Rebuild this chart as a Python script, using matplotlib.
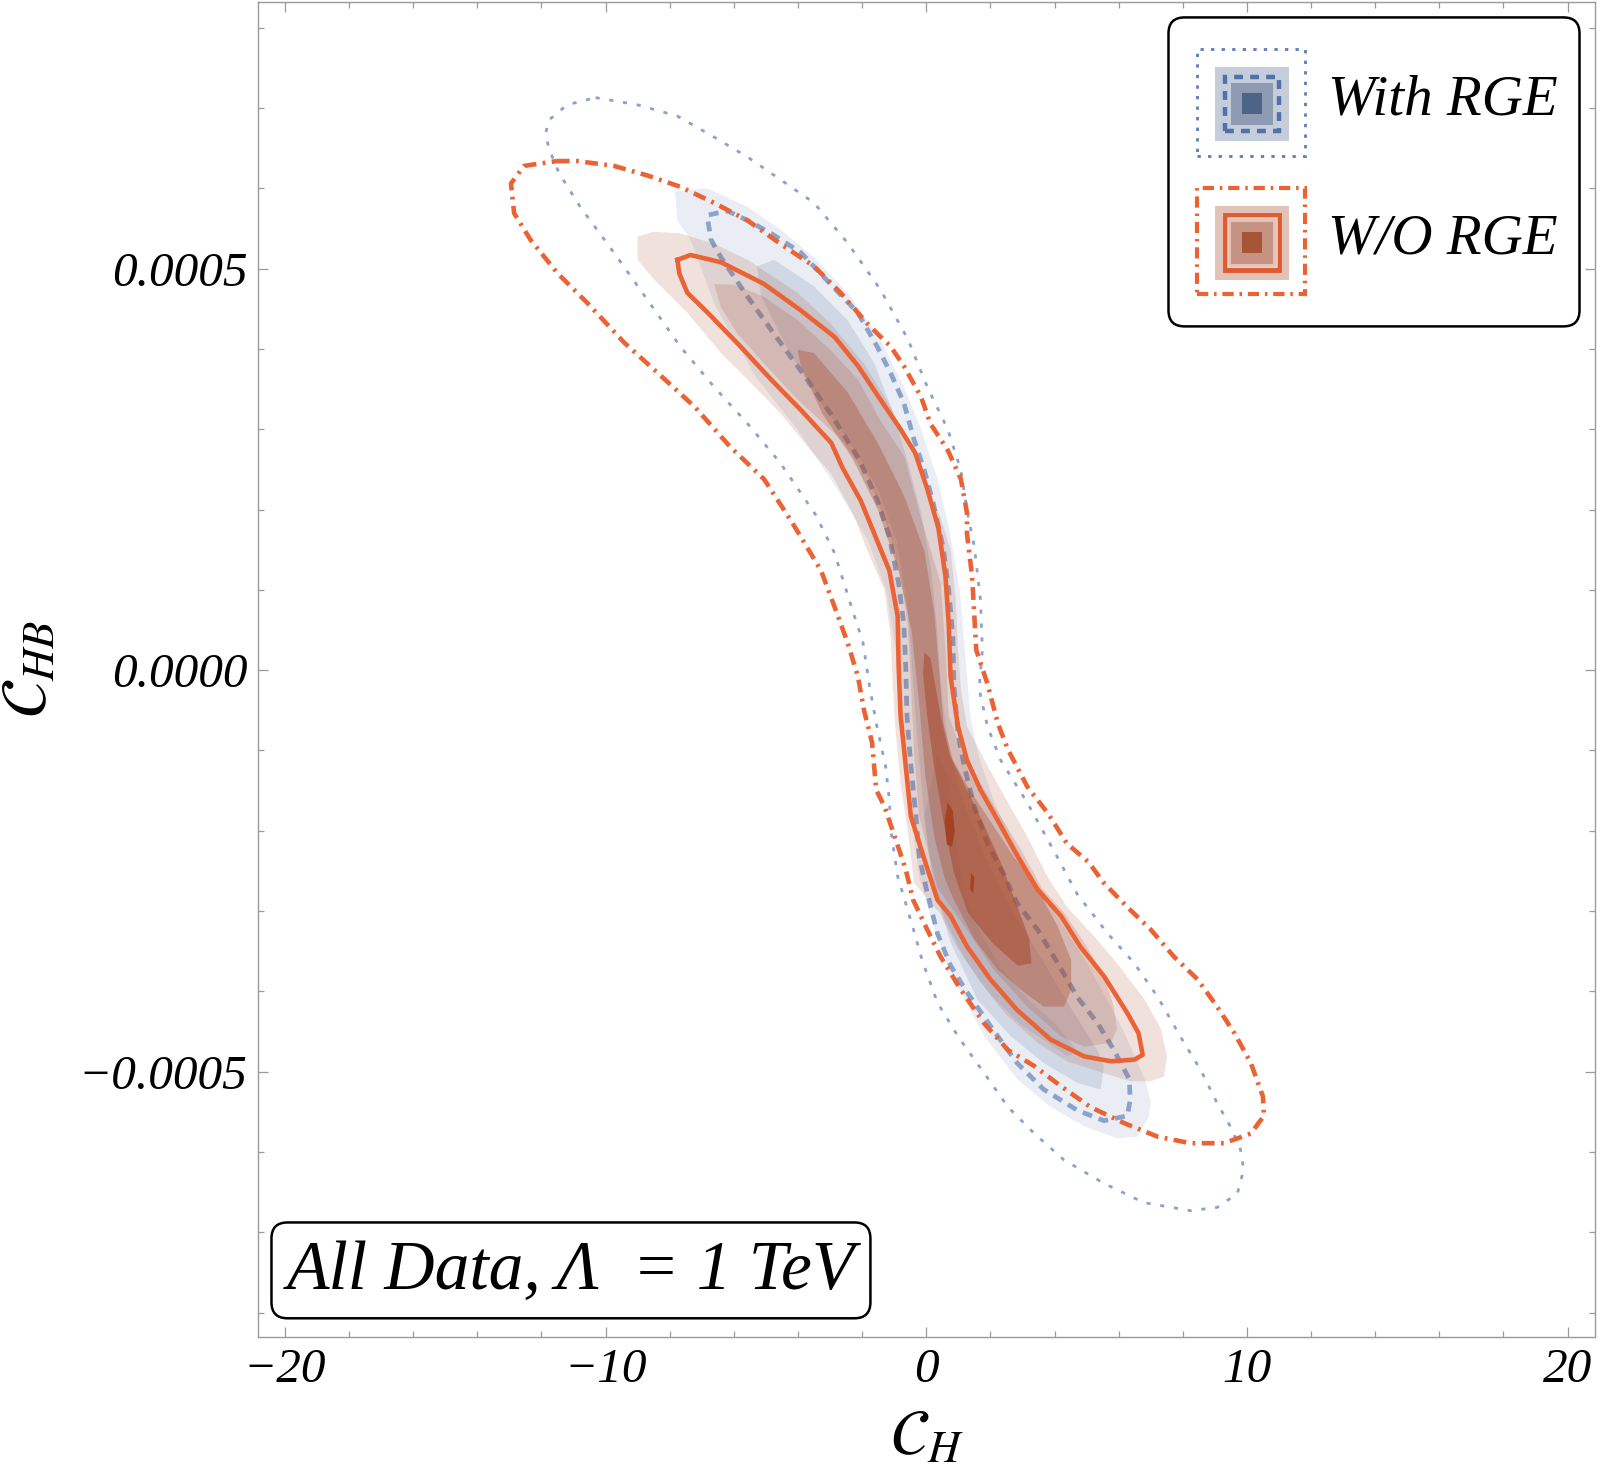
import numpy as np
import matplotlib
matplotlib.use('Agg')
import matplotlib.pyplot as plt
from matplotlib.patches import Rectangle, FancyBboxPatch
from matplotlib.ticker import MultipleLocator

plt.rcParams['font.family'] = ['Liberation Serif', 'DejaVu Serif']
plt.rcParams['font.style'] = 'italic'
plt.rcParams['mathtext.fontset'] = 'stix'

# contour outlines: C_H, and C_HB in units of 1e-4
# With RGE, outer (dotted)
rge95_x = [-10.31, -9.00, -7.76, -6.62, -5.57, -4.55, -3.50, -2.45, -1.43, -0.57, 0.03, 0.67, 1.08, 1.27,
           1.50, 1.69, 1.75, 1.65, 1.91, 2.32, 3.15, 4.01, 4.71, 5.66, 6.49, 7.22, 7.92, 8.56, 9.07, 9.48,
           9.80, 9.90, 9.70, 9.07, 8.24, 6.78, 5.54, 4.30, 3.37, 2.55, 1.81, 0.99, 0.35, -0.13, -0.41,
           -0.89, -1.11, -1.15, -1.27, -1.56, -1.78, -1.97, -2.35, -2.86, -3.44, -4.55, -5.57, -6.62,
           -7.67, -8.69, -9.74, -10.79, -11.45, -11.77, -11.87, -11.77, -11.20]
rge95_y = [7.13, 7.04, 6.90, 6.64, 6.39, 6.11, 5.82, 5.32, 4.74, 4.12, 3.53, 3.00, 2.49, 1.99, 1.54, 0.88,
           0.25, -0.24, -0.70, -1.12, -1.65, -2.27, -2.79, -3.28, -3.65, -4.07, -4.56, -4.98, -5.39,
           -5.68, -5.97, -6.22, -6.52, -6.69, -6.73, -6.63, -6.39, -6.10, -5.77, -5.44, -5.02, -4.56,
           -4.14, -3.61, -3.21, -2.57, -1.98, -1.61, -1.19, -0.66, -0.17, 0.34, 0.81, 1.46, 1.93, 2.58,
           3.07, 3.53, 4.03, 4.61, 5.20, 5.77, 6.19, 6.50, 6.68, 6.85, 7.04]
# With RGE, inner (dashed)
rge68_x = [-6.78, -6.20, -5.57, -4.84, -3.91, -2.99, -2.13, -1.53, -1.11, -0.70, -0.38, -0.06, 0.22, 0.54,
           0.70, 0.83, 0.86, 0.99, 1.18, 1.50, 1.91, 2.39, 2.83, 3.47, 4.10, 4.71, 5.35, 5.85, 6.33, 6.36,
           6.27, 5.54, 4.71, 3.66, 2.83, 2.00, 1.27, 0.76, 0.35, 0.03, -0.22, -0.32, -0.48, -0.60, -0.64,
           -0.70, -0.86, -1.15, -1.53, -2.10, -2.99, -3.91, -4.84, -5.57, -6.40, -6.71, -6.81]
rge68_y = [5.67, 5.72, 5.60, 5.44, 5.20, 4.81, 4.45, 4.03, 3.70, 3.33, 2.87, 2.49, 2.08, 1.50, 1.00, 0.42,
           -0.17, -0.79, -1.19, -1.70, -2.16, -2.52, -2.90, -3.23, -3.65, -4.07, -4.40, -4.73, -5.09,
           -5.35, -5.55, -5.61, -5.48, -5.22, -4.89, -4.43, -4.01, -3.68, -3.28, -2.77, -2.32, -1.82,
           -1.19, -0.57, 0.05, 0.58, 1.08, 1.66, 2.12, 2.63, 3.20, 3.73, 4.24, 4.65, 5.14, 5.36, 5.60]
# W/O RGE, outer (dash-dot)
norge95_x = [-11.52, -10.88, -9.74, -8.69, -7.67, -6.62, -5.57, -4.55, -3.50, -2.67, -1.85, -1.11, -0.70,
             -0.16, 0.13, 0.67, 1.08, 1.27, 1.27, 1.43, 1.50, 1.56, 1.91, 2.23, 2.55, 3.15, 3.79, 4.39,
             5.06, 5.54, 6.27, 7.00, 7.73, 8.46, 9.07, 9.61, 10.12, 10.50, 10.53, 10.12, 9.29, 8.24, 7.22,
             6.17, 5.12, 4.20, 3.37, 2.55, 1.81, 1.08, 0.45, 0.03, -0.41, -0.64, -1.02, -1.30, -1.56,
             -1.69, -1.94, -2.13, -2.45, -2.86, -3.28, -3.91, -4.23, -5.06, -6.11, -7.22, -8.37, -9.42,
             -10.56, -11.49, -12.34, -12.85, -12.95, -12.54]
norge95_y = [6.34, 6.34, 6.28, 6.16, 6.02, 5.82, 5.60, 5.31, 5.03, 4.70, 4.32, 4.03, 3.79, 3.40, 3.07, 2.74,
             2.38, 1.96, 1.70, 1.17, 0.67, 0.25, -0.17, -0.66, -0.99, -1.45, -1.78, -2.16, -2.39, -2.65,
             -2.95, -3.23, -3.57, -3.85, -4.19, -4.52, -4.89, -5.31, -5.55, -5.77, -5.89, -5.89, -5.81,
             -5.64, -5.44, -5.18, -4.93, -4.73, -4.40, -3.98, -3.57, -3.23, -2.86, -2.48, -2.03, -1.70,
             -1.49, -0.90, -0.50, -0.08, 0.34, 0.79, 1.24, 1.66, 1.87, 2.38, 2.78, 3.28, 3.70, 4.08, 4.57,
             4.94, 5.36, 5.69, 6.06, 6.28]
# W/O RGE, inner (solid)
norge68_x = [-7.76, -7.35, -6.40, -5.06, -3.91, -2.86, -2.13, -1.43, -0.80, -0.35, 0.03, 0.38, 0.60, 0.70,
             0.76, 0.99, 1.27, 1.69, 2.23, 2.74, 3.09, 3.47, 4.20, 4.80, 5.54, 6.27, 6.62, 6.75, 6.49, 5.76,
             4.93, 3.88, 2.83, 2.00, 1.27, 0.76, 0.35, -0.03, -0.48, -0.64, -0.80, -0.86, -0.89, -1.15,
             -1.62, -2.04, -2.61, -2.96, -3.91, -4.84, -5.79, -6.81, -7.45, -7.70]
norge68_y = [5.11, 5.17, 5.08, 4.81, 4.48, 4.15, 3.79, 3.37, 3.00, 2.71, 2.26, 1.77, 1.17, 0.58, -0.08,
             -0.70, -1.12, -1.49, -1.87, -2.24, -2.48, -2.73, -3.06, -3.44, -3.81, -4.27, -4.52, -4.79,
             -4.85, -4.87, -4.81, -4.60, -4.23, -3.85, -3.44, -3.06, -2.86, -2.39, -1.82, -1.19, -0.57,
             0.05, 0.67, 1.24, 1.70, 2.11, 2.52, 2.83, 3.24, 3.62, 4.03, 4.45, 4.70, 4.94]

# density bands (shaded)
rge_band1_x = [-7.83, -6.84, -5.57, -4.55, -3.50, -2.45, -1.43, -0.70, -0.16, 0.35, 0.73, 1.05, 1.21, 1.37,
               1.62, 2.16, 2.96, 3.91, 5.03, 6.14, 6.84, 7.00, 6.94, 6.59, 5.95, 4.93, 3.88, 2.83, 1.81,
               0.76, 0.25, -0.22, -0.54, -0.80, -0.95, -1.24, -1.81, -2.77, -4.04, -5.31, -6.59, -7.35, -7.76]
rge_band1_y = [5.96, 6.00, 5.77, 5.49, 5.14, 4.70, 4.12, 3.53, 3.00, 2.38, 1.74, 0.98, 0.22, -0.55, -1.05,
               -1.69, -2.32, -2.96, -3.66, -4.48, -5.12, -5.37, -5.56, -5.81, -5.83, -5.68, -5.44, -5.09,
               -4.56, -3.77, -3.21, -2.58, -1.56, -0.55, 0.22, 0.98, 1.61, 2.25, 3.01, 3.65, 4.54, 5.36, 5.60]
rge_band2_x = [-5.28, -4.74, -3.50, -2.45, -1.62, -1.02, -0.57, -0.16, 0.16, 0.35, 0.48, 0.73, 1.21, 1.85,
               2.64, 3.60, 4.55, 5.35, 5.54, 5.44, 4.71, 3.66, 2.64, 1.59, 0.76, 0.25, -0.06, -0.29, -0.45,
               -0.60, -0.92, -1.50, -2.45, -3.40, -4.36, -5.15]
rge_band2_y = [5.03, 5.11, 4.78, 4.36, 3.82, 3.20, 2.58, 1.96, 1.23, 0.47, -0.29, -1.05, -1.69, -2.32,
               -2.96, -3.60, -4.23, -4.74, -4.93, -5.22, -5.14, -4.89, -4.56, -4.10, -3.39, -2.71, -1.82,
               -0.80, 0.09, 0.85, 1.61, 2.25, 2.88, 3.39, 4.03, 4.66]
rge_band3_x = [-0.06, 0.16, 0.57, 1.21, 2.00, 2.96, 3.91, 4.39, 4.71, 4.07, 3.12, 2.32, 1.69, 1.18, 0.89,
               0.67, 0.35]
rge_band3_y = [-1.82, -2.58, -3.09, -3.60, -4.04, -4.42, -4.67, -4.81, -4.74, -4.42, -4.08, -3.70, -3.28,
               -2.77, -2.07, -1.31, -1.05]

norge_band1_x = [-9.00, -8.50, -7.67, -6.62, -5.57, -4.01, -2.99, -1.94, -1.11, -0.48, -0.06, 0.45, 0.76,
                 0.92, 0.99, 1.08, 1.27, 1.91, 2.55, 3.15, 3.75, 4.39, 5.25, 5.95, 6.81, 7.32, 7.51, 7.41,
                 7.00, 6.36, 5.54, 4.39, 3.47, 2.45, 1.62, 0.95, 0.41, -0.38, -0.57, -0.80, -0.95, -1.05,
                 -1.11, -1.30, -1.85, -2.26, -2.96, -3.69, -4.55, -5.57, -6.40, -7.45, -8.50, -9.00]
norge_band1_y = [5.40, 5.46, 5.44, 5.31, 5.11, 4.70, 4.32, 3.82, 3.28, 2.78, 2.29, 1.90, 1.50, 0.88, 0.25,
                 -0.24, -0.70, -1.19, -1.65, -2.07, -2.55, -2.95, -3.32, -3.65, -4.10, -4.47, -4.81, -5.06,
                 -5.12, -5.12, -5.02, -4.87, -4.64, -4.27, -3.85, -3.44, -3.02, -2.65, -2.03, -1.41, -0.79,
                 -0.17, 0.42, 1.00, 1.50, 1.93, 2.44, 2.78, 3.20, 3.62, 3.95, 4.45, 4.87, 5.11]
norge_band2_x = [-6.62, -5.98, -5.06, -4.01, -2.99, -2.13, -1.43, -0.67, -0.19, 0.45, 0.60, 0.70, 1.08, 1.69,
                 2.32, 2.96, 3.60, 4.30, 4.93, 5.54, 5.85, 5.95, 5.76, 4.93, 4.20, 3.15, 2.10, 1.27, 0.35,
                 -0.22, -0.38, -0.48, -0.57, -0.80, -1.21, -1.81, -2.67, -4.01, -5.06, -5.89, -6.40]
norge_band2_y = [4.81, 4.80, 4.65, 4.36, 3.99, 3.62, 3.11, 2.65, 1.93, 1.08, 0.25, -0.57, -0.99, -1.41,
                 -1.82, -2.24, -2.71, -3.02, -3.39, -3.81, -4.19, -4.47, -4.64, -4.69, -4.56, -4.19, -3.73,
                 -3.23, -2.71, -1.82, -0.99, -0.17, 0.55, 1.17, 1.79, 2.40, 2.88, 3.37, 3.82, 4.19, 4.52]
norge_band3_x = [-4.01, -3.50, -2.45, -1.50, -0.70, -0.06, 0.25, 0.41, 0.54, 0.83, 1.37, 2.00, 2.64, 3.47,
                 4.10, 4.52, 4.52, 4.30, 3.66, 3.05, 2.23, 1.50, 0.86, 0.57, 0.25, -0.03, -0.22, -0.45,
                 -0.86, -1.50, -2.29, -3.25, -3.91]
norge_band3_y = [3.99, 3.95, 3.46, 2.82, 2.18, 1.49, 0.72, -0.04, -0.67, -1.12, -1.50, -1.88, -2.27, -2.73,
                 -3.19, -3.61, -3.98, -4.19, -4.19, -4.01, -3.73, -3.35, -2.86, -2.58, -2.07, -1.31, -0.42,
                 0.47, 1.23, 1.99, 2.63, 3.20, 3.79]
norge_band4_x = [-0.06, 0.13, 0.45, 0.73, 1.21, 1.75, 2.32, 2.80, 3.21, 3.28, 2.86, 2.07, 1.30, 0.86, 0.54,
                 0.25, 0.03, -0.10]
norge_band4_y = [0.22, 0.15, -0.57, -1.05, -1.44, -1.88, -2.39, -2.90, -3.34, -3.65, -3.68, -3.40, -3.02,
                 -2.52, -1.88, -1.21, -0.57, -0.04]
norge_core_x = [0.67, 0.83, 0.89, 0.80, 0.64, 0.57]
norge_core_y = [-1.65, -1.75, -2.01, -2.20, -2.17, -1.88]
norge_core2_x = [1.40, 1.50, 1.46, 1.37]
norge_core2_y = [-2.52, -2.58, -2.78, -2.73]

x_ticks = [-20, -10, 0, 10, 20]
x_tick_labels = ['\u221220', '\u221210', '0', '10', '20']
y_ticks = [-0.0005, 0.0, 0.0005]
y_tick_labels = ['\u22120.0005', '0.0000', '0.0005']

E4 = 1e-4


def closed(x, y):
    x = np.append(x, x[0])
    y = np.append(y, y[0]) * E4
    return x, y


fig = plt.figure(figsize=(16, 14.78), dpi=100)
ax = fig.add_axes([0.1614, 0.0956, 0.8354, 0.9030])

blue_base = '#466496'
orange_base = '#a84a2c'
blue_line = '#8aa3cc'
orange_line = '#eb6335'

ax.fill(*closed(rge_band1_x, rge_band1_y), color=blue_base, alpha=0.11, lw=0, zorder=1)
ax.fill(*closed(rge_band2_x, rge_band2_y), color=blue_base, alpha=0.15, lw=0, zorder=1)
ax.fill(*closed(rge_band3_x, rge_band3_y), color=blue_base, alpha=0.12, lw=0, zorder=1)
ax.plot(*closed(rge95_x, rge95_y), color=blue_line, lw=2.0, ls=(0, (1.5, 3.5)), zorder=2)
ax.plot(*closed(rge68_x, rge68_y), color=blue_line, lw=3.4, ls=(0, (2.1, 1.5)), zorder=2)

ax.fill(*closed(norge_band1_x, norge_band1_y), color=orange_base, alpha=0.16, lw=0, zorder=3)
ax.fill(*closed(norge_band2_x, norge_band2_y), color=orange_base, alpha=0.19, lw=0, zorder=3)
ax.fill(*closed(norge_band3_x, norge_band3_y), color=orange_base, alpha=0.36, lw=0, zorder=3)
ax.fill(*closed(norge_band4_x, norge_band4_y), color=orange_base, alpha=0.55, lw=0, zorder=3)
ax.fill(*closed(norge_core_x, norge_core_y), color='#a3401f', alpha=0.9, lw=0, zorder=3)
ax.fill(*closed(norge_core2_x, norge_core2_y), color='#a3401f', alpha=0.9, lw=0, zorder=3)
ax.plot(*closed(norge95_x, norge95_y), color=orange_line, lw=3.3, ls=(0, (2.8, 1.4, 0.6, 1.4)), zorder=4)
ax.plot(*closed(norge68_x, norge68_y), color=orange_line, lw=3.3, zorder=4)

ax.set_xlim(-20.83, 20.85)
ax.set_ylim(-8.30e-4, 8.32e-4)
ax.set_xticks(x_ticks, x_tick_labels)
ax.set_yticks(y_ticks, y_tick_labels)
ax.xaxis.set_minor_locator(MultipleLocator(2))
ax.yaxis.set_minor_locator(MultipleLocator(1e-4))
ax.tick_params(which='both', direction='in', top=True, right=True, color='#9a9a9a', width=0.9)
ax.tick_params(which='major', length=7.5, labelsize=35.5, pad=8)
ax.tick_params(which='minor', length=4)
for s in ax.spines.values():
    s.set_color('#9a9a9a')
    s.set_linewidth(1.0)

ax.set_xlabel(r'$\mathcal{C}_{H}$', fontsize=46)
ax.xaxis.set_label_coords(0.5, -0.055)
ax.set_ylabel(r'$\mathcal{C}_{HB}$', fontsize=46)
ax.yaxis.set_label_coords(-0.148, 0.5)


def sq(x0, y0, x1, y1, **kw):
    ax.add_patch(Rectangle((x0, y0), x1 - x0, y1 - y0, transform=ax.transAxes, clip_on=False, zorder=6, **kw))


# legend box
ax.add_patch(FancyBboxPatch((0.681, 0.757), 0.3075, 0.2315, boxstyle='round,pad=0,rounding_size=0.012',
                            transform=ax.transAxes, fc='white', ec='black', lw=1.8, zorder=5))
sq(0.702, 0.885, 0.783, 0.9646, fill=False, ec='#5a7db6', lw=2.0, ls=(0, (1.2, 2.6)))
sq(0.7158, 0.8961, 0.7714, 0.9516, fc='#c5cdda', ec='none')
sq(0.7275, 0.9079, 0.7594, 0.9396, fc='#8e9bb3', ec='none')
sq(0.7233, 0.9037, 0.7639, 0.9442, fill=False, ec='#4e72aa', lw=3.2, ls=(0, (2.0, 1.6)))
sq(0.7357, 0.9164, 0.7511, 0.9318, fc='#4e6486', ec='none')
ax.text(0.8005, 0.9154, 'With RGE', transform=ax.transAxes, fontsize=41, ha='left', va='baseline', zorder=6)

sq(0.702, 0.781, 0.783, 0.8605, fill=False, ec=orange_line, lw=3.0, ls=(0, (2.7, 1.4, 0.6, 1.4)))
sq(0.7158, 0.792, 0.7714, 0.8475, fc='#e1c3b7', ec='none')
sq(0.7275, 0.8038, 0.7594, 0.8355, fc='#c69283', ec='none')
sq(0.7233, 0.7996, 0.7639, 0.8401, fill=False, ec='#e05a30', lw=3.5)
sq(0.7258, 0.8018, 0.7619, 0.8379, fill=False, ec='#ebcdc2', lw=1.2)
sq(0.7357, 0.8123, 0.7511, 0.8277, fc='#a65537', ec='none')
ax.text(0.8005, 0.8113, 'W/O RGE', transform=ax.transAxes, fontsize=41, ha='left', va='baseline', zorder=6)

# annotation box
ax.add_patch(FancyBboxPatch((0.0099, 0.0138), 0.4481, 0.0718, boxstyle='round,pad=0,rounding_size=0.012',
                            transform=ax.transAxes, fc='white', ec='black', lw=1.8, zorder=5))
ax.text(0.234, 0.0359, 'All Data, \u039b  = 1 TeV', transform=ax.transAxes, fontsize=50,
        ha='center', va='baseline', zorder=6)

fig.savefig('out.png', dpi=100)
